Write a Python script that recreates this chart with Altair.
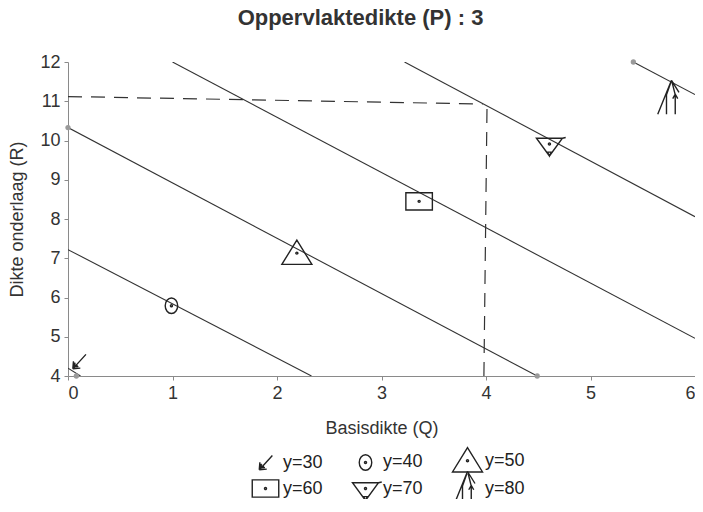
import altair as alt
import pandas as pd

# ---- data ----
line_id = ["y=30", "y=30", "y=40", "y=40", "y=50", "y=50",
           "y=60", "y=60", "y=70", "y=70", "y=80", "y=80"]
line_x = [0.0, 0.12, 0.0, 2.33, 0.0, 4.49, 1.0, 6.0, 3.22, 6.0, 5.41, 6.0]
line_y = [4.2, 4.0, 7.22, 4.0, 10.33, 4.0, 12.0, 4.96, 12.0, 8.06, 12.0, 11.17]

guide_id = ["h", "h", "v", "v"]
guide_x = [0.0, 3.97, 4.01, 3.98]
guide_y = [11.12, 10.93, 10.93, 4.0]

marker_labels = ["y=30", "y=40", "y=50", "y=60", "y=70", "y=80"]
marker_x = [0.106, 0.99, 2.19, 3.36, 4.607, 5.775]
marker_y = [4.36, 5.79, 7.13, 8.45, 9.91, 11.1]

dot_x = [0.0, 4.49, 0.08, 5.41]
dot_y = [10.33, 4.0, 4.0, 12.0]

x_ticks = [0, 1, 2, 3, 4, 5, 6]
y_ticks = [4, 5, 6, 7, 8, 9, 10, 11, 12]

# ---- hand-drawn style symbols (SVG paths) ----
DOT = "M0.08,0 A0.08,0.08 0 1,1 -0.08,0 A0.08,0.08 0 1,1 0.08,0 Z"
symbol_paths = [
    "M0.55,-0.6 L-0.45,0.5 M-0.5,0.55 L-0.45,-0.05 M-0.5,0.55 L0.1,0.5 "
    "M-0.45,0.45 L-0.3,0.1 M-0.45,0.45 L-0.1,0.3 M-0.4,0.4 L-0.35,0.05 M-0.4,0.4 L-0.05,0.38",
    "M0.5,0 A0.5,0.62 0 1,1 -0.5,0 A0.5,0.62 0 1,1 0.5,0 Z " + DOT,
    "M0,-1.05 L1.2,0.9 L-1.2,0.9 Z " + DOT,
    "M-1.06,-0.69 L1.06,-0.69 L1.06,0.69 L-1.06,0.69 Z " + DOT,
    "M-1.04,-0.46 L1.04,-0.46 L0,0.96 Z M0,0.96 L-0.15,0.65 L0.15,0.65 Z "
    "M1.04,-0.46 L1.3,-0.52 " + DOT,
    "M0,-1.36 L-1.1,1.36 M-0.05,-1.2 L-0.4,-0.2 L-0.4,1.36 "
    "M0.05,-1.2 L0.3,-0.2 L0.3,1.36 M0.1,0.1 L0.3,-0.25 L0.5,0.1 M0,-1.36 L0.6,-0.4",
]

lines_df = pd.DataFrame({"id": line_id, "x": line_x, "y": line_y})
guides_df = pd.DataFrame({"id": guide_id, "x": guide_x, "y": guide_y})
markers_df = pd.DataFrame({"label": marker_labels, "x": marker_x, "y": marker_y})
dots_df = pd.DataFrame({"x": dot_x, "y": dot_y})

FONT = "Liberation Sans"

x_enc = alt.X(
    "x:Q",
    scale=alt.Scale(domain=[0, 6], nice=False),
    axis=alt.Axis(
        title="Basisdikte (Q)", values=x_ticks, format="d", grid=False,
        tickSize=4, labelPadding=4, titlePadding=17,
    ),
)
y_enc = alt.Y(
    "y:Q",
    scale=alt.Scale(domain=[4, 12], nice=False, zero=False),
    axis=alt.Axis(
        title="Dikte onderlaag (R)", values=y_ticks, format="d", grid=False,
        tickSize=4, labelPadding=4, titlePadding=13,
    ),
)

lines = alt.Chart(lines_df).mark_line(color="#333333", strokeWidth=1.1, clip=True).encode(
    x=x_enc, y=y_enc, detail="id:N"
)
guides = alt.Chart(guides_df).mark_line(
    color="#333333", strokeWidth=1.2, strokeDash=[14, 9]
).encode(x=x_enc, y=y_enc, detail="id:N")
dots = alt.Chart(dots_df).mark_circle(color="#9a9a9a", size=28, opacity=1).encode(
    x=x_enc, y=y_enc
)
markers = alt.Chart(markers_df).mark_point(
    filled=False, size=625, strokeWidth=1.4, color="#222222", opacity=1
).encode(
    x=x_enc,
    y=y_enc,
    shape=alt.Shape(
        "label:N",
        scale=alt.Scale(domain=marker_labels, range=symbol_paths),
        legend=alt.Legend(
            title=None, orient="none", legendX=184, legendY=385, columns=3,
            direction="horizontal", symbolSize=625, symbolStrokeWidth=1.4,
            symbolStrokeColor="#222222", labelFont=FONT, labelFontSize=18,
            labelColor="#222222", labelOffset=4, columnPadding=26, rowPadding=-12,
            padding=0,
        ),
    ),
)

chart = (
    alt.layer(lines, guides, dots, markers)
    .properties(
        width=627,
        height=314,
        autosize=alt.AutoSizeParams(type="none"),
        padding={"left": 60, "top": 54, "right": 0, "bottom": 123},
        title=alt.TitleParams(
            "Oppervlaktedikte (P) : 3", font=FONT, fontSize=22, fontWeight="bold",
            color="#333333", anchor="middle", frame="group", dx=-21, offset=6,
            baseline="alphabetic",
        ),
    )
    .configure_view(stroke=None)
    .configure_axis(
        domainColor="#8a8a8a", tickColor="#8a8a8a", labelFont=FONT, titleFont=FONT,
        labelFontSize=18, titleFontSize=18, labelColor="#333333", titleColor="#333333",
        titleFontWeight="normal",
    )
)

chart.save("out.html", embed_options={"renderer": "svg", "actions": False})
